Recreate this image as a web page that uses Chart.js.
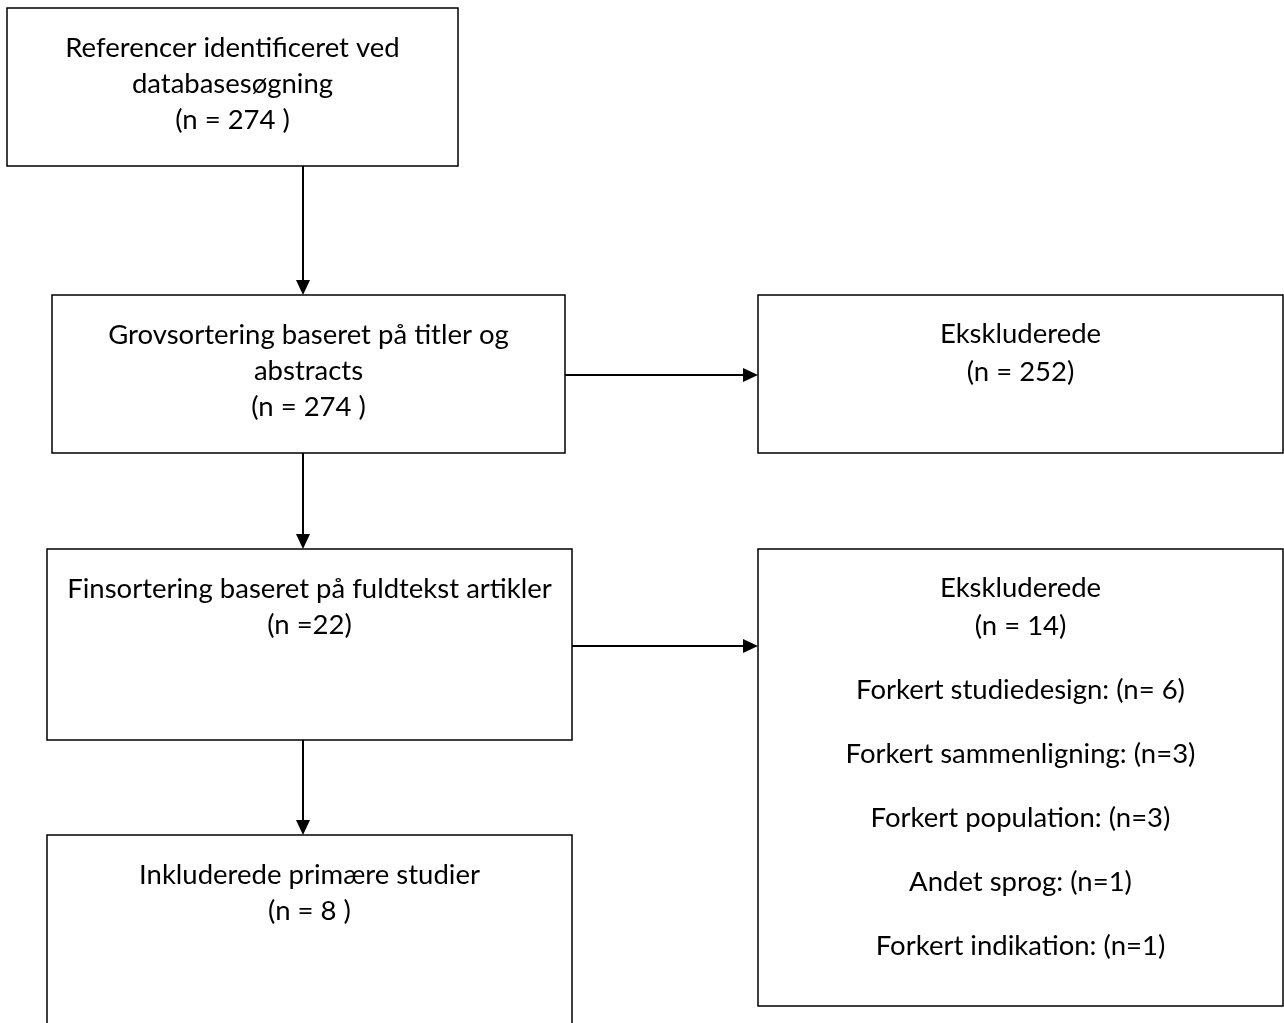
<!DOCTYPE html>
<html>
<head>
<meta charset="utf-8">
<script src="https://cdn.jsdelivr.net/npm/chart.js@4"></script>
<style>
  html, body { margin: 0; padding: 0; background: #fff; }
  #wrap { width: 1284px; height: 1023px; }
</style>
</head>
<body>
<div id="wrap"><canvas id="flowChart"></canvas></div>
<script>
// flow stages (left column) and exclusions (right column)
const stageLines = [
    ['Referencer identificeret ved', 'databasesøgning'],
    ['Grovsortering baseret på titler og', 'abstracts'],
    ['Finsortering baseret på fuldtekst artikler'],
    ['Inkluderede primære studier']
];
const stageCounts = ['(n = 274 )', '(n = 274 )', '(n =22)', '(n = 8 )'];
const excludedLabels = ['Ekskluderede', 'Ekskluderede'];
const excludedCounts = ['(n = 252)', '(n = 14)'];
const exclusionReasons = [
    'Forkert studiedesign: (n= 6)',
    'Forkert sammenligning: (n=3)',
    'Forkert population: (n=3)',
    'Andet sprog: (n=1)',
    'Forkert indikation: (n=1)'
];

// box geometry in axis units (x 0..1284, y 0..1023 from top)
const stageBoxes = [
    { x0: 7,  x1: 458, y0: 8,   y1: 166 },
    { x0: 52, x1: 565, y0: 295, y1: 453 },
    { x0: 47, x1: 572, y0: 549, y1: 740 },
    { x0: 47, x1: 572, y0: 835, y1: 1040 }
];
const excludedBoxes = [
    { x0: 758, x1: 1283, y0: 295, y1: 453, arrowY: 375 },
    { x0: 758, x1: 1283, y0: 549, y1: 1006, arrowY: 646 }
];
const FONT = '27.5px Lato, "Open Sans", sans-serif';
const LINE_H = 36;
const REASON_H = 64;

function boxCenters(){
    return stageBoxes.concat(excludedBoxes).map(b => ({ x: (b.x0 + b.x1) / 2, y: (b.y0 + b.y1) / 2 }));
}

const flowPlugin = {
    id: 'flow',
    afterDatasetsDraw(chart){
        const ctx = chart.ctx;
        const sx = chart.scales.x, sy = chart.scales.y;
        const px = v => sx.getPixelForValue(v);
        const py = v => sy.getPixelForValue(v);

        ctx.save();
        ctx.strokeStyle = '#000';
        ctx.fillStyle = '#000';
        ctx.font = FONT;
        ctx.textAlign = 'center';
        ctx.textBaseline = 'middle';

        function rect(b){
            ctx.lineWidth = 1.5;
            ctx.strokeRect(px(b.x0), py(b.y0), px(b.x1) - px(b.x0), py(b.y1) - py(b.y0));
        }
        function arrow(x0, y0, x1, y1){
            const ax0 = px(x0), ay0 = py(y0), ax1 = px(x1), ay1 = py(y1);
            const ang = Math.atan2(ay1 - ay0, ax1 - ax0);
            const len = 15, half = 7;
            ctx.lineWidth = 2;
            ctx.beginPath();
            ctx.moveTo(ax0, ay0);
            ctx.lineTo(ax1 - Math.cos(ang) * len, ay1 - Math.sin(ang) * len);
            ctx.stroke();
            ctx.beginPath();
            ctx.moveTo(ax1, ay1);
            ctx.lineTo(ax1 - Math.cos(ang) * len - Math.sin(ang) * half, ay1 - Math.sin(ang) * len + Math.cos(ang) * half);
            ctx.lineTo(ax1 - Math.cos(ang) * len + Math.sin(ang) * half, ay1 - Math.sin(ang) * len - Math.cos(ang) * half);
            ctx.closePath();
            ctx.fill();
        }

        // left column
        stageBoxes.forEach((b, i) => {
            rect(b);
            const cx = (b.x0 + b.x1) / 2;
            const lines = stageLines[i].concat([stageCounts[i]]);
            lines.forEach((t, j) => ctx.fillText(t, px(cx), py(b.y0 + 40 + j * LINE_H)));
            if (i < stageBoxes.length - 1) arrow(303, b.y1, 303, stageBoxes[i + 1].y0);
        });

        // right column
        excludedBoxes.forEach((b, i) => {
            rect(b);
            const cx = (b.x0 + b.x1) / 2;
            ctx.fillText(excludedLabels[i], px(cx), py(b.y0 + 39));
            ctx.fillText(excludedCounts[i], px(cx), py(b.y0 + 77));
            arrow(stageBoxes[i + 1].x1, b.arrowY, b.x0, b.arrowY);
        });
        const rb = excludedBoxes[1];
        exclusionReasons.forEach((t, j) => {
            ctx.fillText(t, px((rb.x0 + rb.x1) / 2), py(rb.y0 + 141 + j * REASON_H));
        });
        ctx.restore();
    }
};

new Chart(document.getElementById('flowChart').getContext('2d'), {
    type: 'scatter',
    data: {
        datasets: [{
            data: boxCenters(),
            pointRadius: 0
        }]
    },
    options: {
        responsive: true,
        maintainAspectRatio: false,
        animation: false,
        layout: { padding: 0 },
        plugins: { legend: { display: false }, tooltip: { enabled: false } },
        scales: {
            x: { type: 'linear', min: 0, max: 1284, display: false },
            y: { type: 'linear', min: 0, max: 1023, reverse: true, display: false }
        }
    },
    plugins: [flowPlugin]
});
</script>
</body>
</html>
